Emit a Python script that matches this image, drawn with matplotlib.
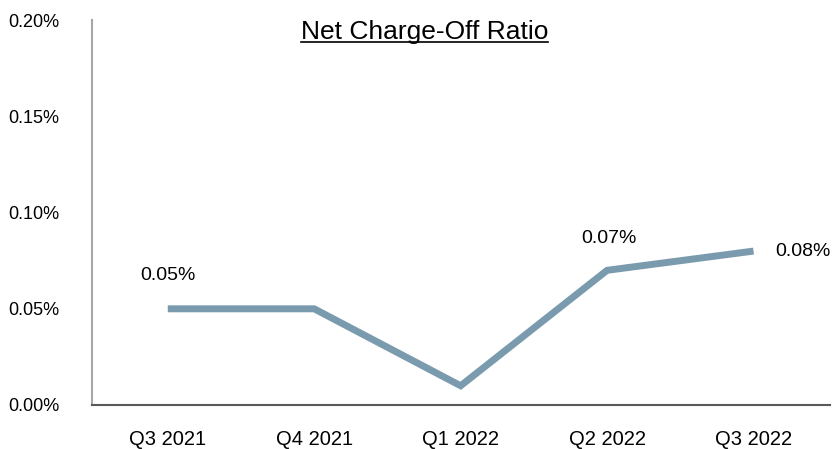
import matplotlib
matplotlib.use("Agg")
import matplotlib.pyplot as plt
from matplotlib.lines import Line2D

plt.rcParams['font.family'] = ['Liberation Sans', 'DejaVu Sans']

# data
quarters = ['Q3 2021', 'Q4 2021', 'Q1 2022', 'Q2 2022', 'Q3 2022']
nco_ratio = [0.05, 0.05, 0.01, 0.07, 0.08]
yticks = [0.00, 0.05, 0.10, 0.15, 0.20]
labelled = {0: '0.05%', 3: '0.07%', 4: '0.08%'}

fig = plt.figure(figsize=(8.33, 4.49), dpi=100)
ax = fig.add_axes([0.110, 0.098, 0.886, 0.857])

x = list(range(len(quarters)))
ax.plot(x, nco_ratio, color='#7a9aae', linewidth=5, solid_capstyle='butt', solid_joinstyle='miter')

ax.set_xlim(-0.52, 4.52)
ax.set_ylim(0, 0.20)
ax.set_xticks(x)
ax.set_xticklabels(quarters, fontsize=14.5)
ax.set_yticks(yticks)
ax.set_yticklabels(['%.2f%%' % v for v in yticks], fontsize=13)
ax.tick_params(axis='both', length=0)
ax.tick_params(axis='x', pad=18)
ax.tick_params(axis='y', pad=23)

for side in ['top', 'right']:
    ax.spines[side].set_visible(False)
ax.spines['left'].set_color('#a6a6a6')
ax.spines['left'].set_linewidth(1.5)
ax.spines['bottom'].set_color('#595959')
ax.spines['bottom'].set_linewidth(1.5)

# data labels
ax.annotate(labelled[0], (0, nco_ratio[0]), xytext=(0, 24), textcoords='offset points',
            ha='center', va='center', fontsize=14)
ax.annotate(labelled[3], (3, nco_ratio[3]), xytext=(1, 23), textcoords='offset points',
            ha='center', va='center', fontsize=14)
ax.annotate(labelled[4], (4, nco_ratio[4]), xytext=(16, 0), textcoords='offset points',
            ha='left', va='center', fontsize=14)

# underlined title
title = ax.text(0.451, 0.97, 'Net Charge-Off Ratio', transform=ax.transAxes,
                ha='center', va='center', fontsize=19)
fig.canvas.draw()
bb = title.get_window_extent().transformed(fig.transFigure.inverted())
fig.add_artist(Line2D([bb.x0, bb.x1], [bb.y0 + 0.003, bb.y0 + 0.003],
                      transform=fig.transFigure, color='black', linewidth=1.2))

fig.savefig('out.png', dpi=100)
